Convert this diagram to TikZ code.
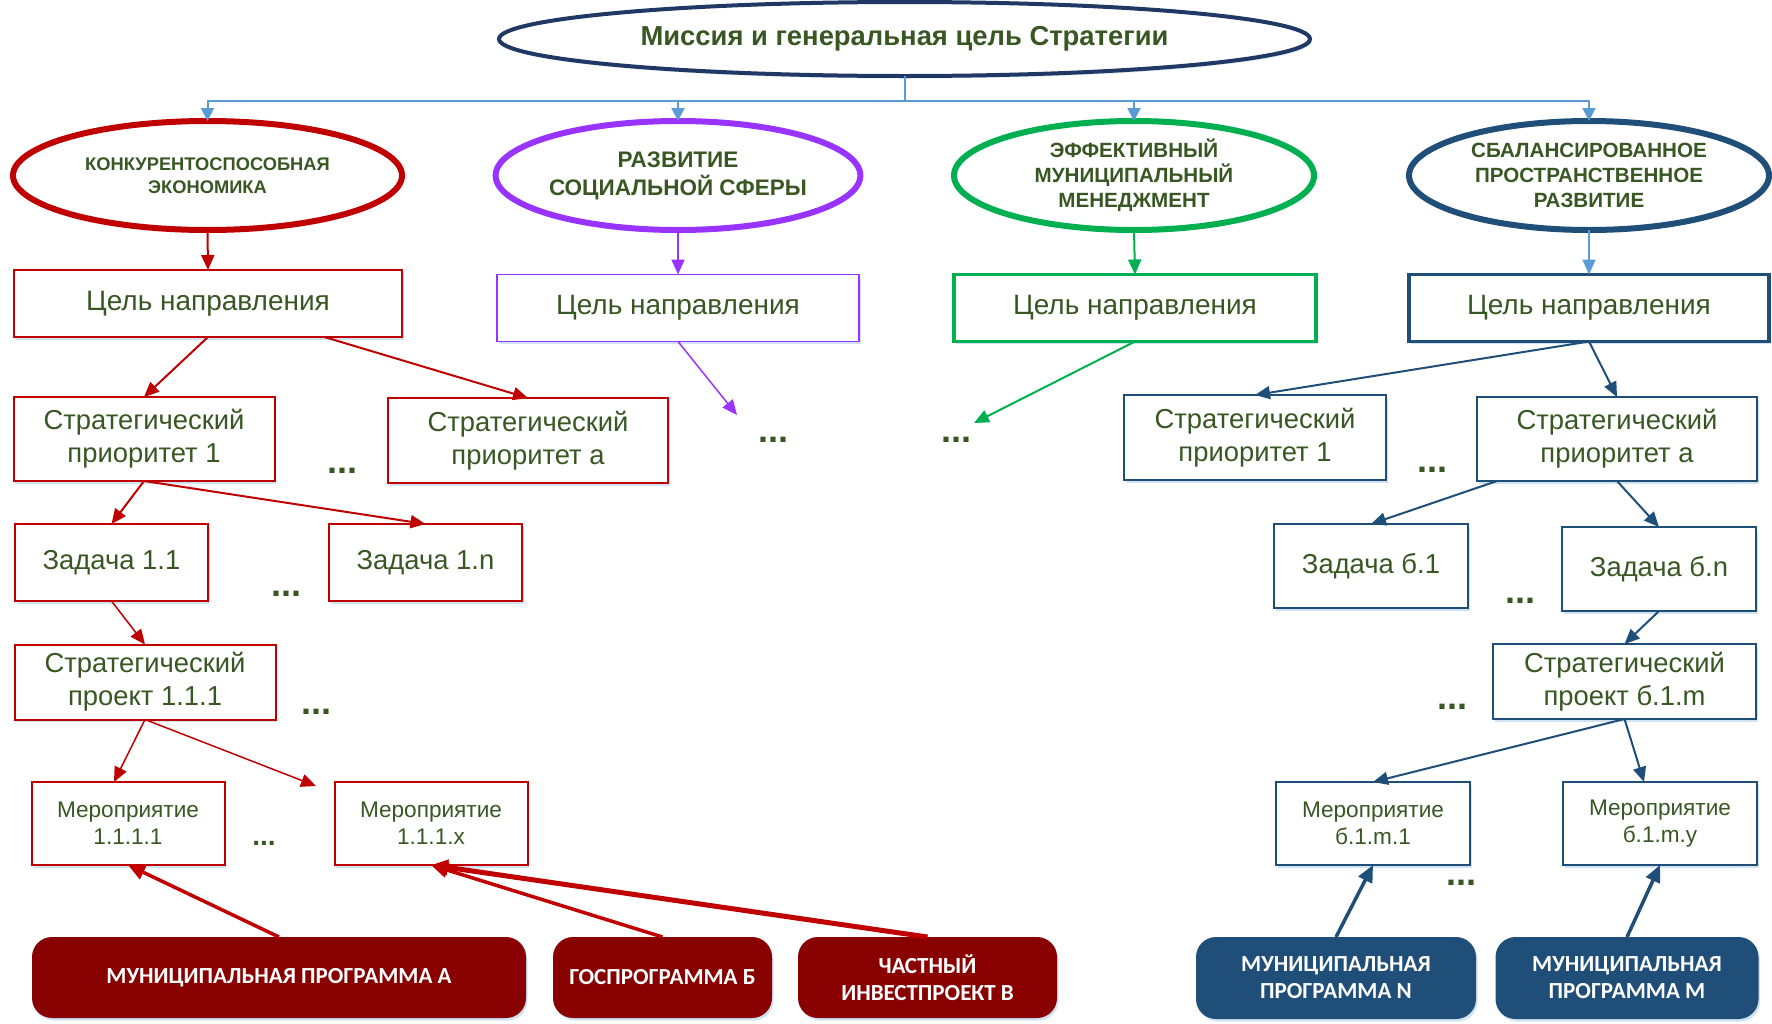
\documentclass[tikz,border=0pt]{standalone}
\usepackage{fontspec}
\setmainfont{Liberation Sans}
\newfontfamily\progfont{Carlito}
\usetikzlibrary{shapes.geometric,arrows.meta,calc,shadows}

\definecolor{txtgreen}{RGB}{56,87,35}
\definecolor{navymain}{RGB}{32,56,100}
\definecolor{econred}{RGB}{192,0,0}
\definecolor{socpurple}{RGB}{153,51,255}
\definecolor{mgmtgreen}{RGB}{0,176,80}
\definecolor{spacenavy}{RGB}{31,78,121}
\definecolor{busblue}{RGB}{91,155,213}
\definecolor{progred}{RGB}{136,0,0}
\definecolor{shadowblue}{RGB}{189,215,238}

\begin{document}
\begin{tikzpicture}[x=1pt,y=-1pt,
    every node/.style={text=txtgreen, align=center, inner sep=0pt, outer sep=0pt},
    boxshadow/.style={drop shadow={shadow xshift=1.5pt, shadow yshift=-2.5pt, fill=shadowblue, opacity=0.7}},
    missionell/.style={ellipse, draw=navymain, fill=white, line width=4pt, minimum width=811pt, minimum height=74pt, font=\bfseries\fontsize{27.4}{32}\selectfont, boxshadow},
    direll/.style={ellipse, fill=white, line width=6pt, minimum width=360pt, minimum height=109pt, font=\bfseries\fontsize{20.6}{25}\selectfont, boxshadow},
    celbox/.style={rectangle, fill=white, minimum width=362pt, minimum height=67pt, font=\fontsize{28}{33}\selectfont, boxshadow},
    prbox/.style={rectangle, fill=white, line width=2pt, minimum width=261pt, minimum height=84pt, font=\fontsize{27.4}{33}\selectfont, boxshadow},
    taskbox/.style={rectangle, fill=white, line width=2pt, minimum width=193pt, minimum height=77pt, font=\fontsize{27.4}{33}\selectfont, boxshadow},
    evbox/.style={rectangle, fill=white, line width=2pt, minimum width=193pt, minimum height=83pt, font=\fontsize{22.6}{27}\selectfont, boxshadow},
    progbox/.style={rectangle, rounded corners=20pt, fill=progred, text=white, minimum height=81pt, font=\progfont\bfseries\fontsize{23}{27}\selectfont, boxshadow},
    dotsnode/.style={font=\bfseries\fontsize{36}{36}\selectfont},
    busarr/.style={draw=busblue, line width=2pt, -{Triangle[length=13pt,width=13pt]}},
    linkarr/.style={line width=2pt, -{Triangle[length=15pt,width=13pt]}},
    progarr/.style={line width=3.5pt, -{Triangle[length=17pt,width=15pt]}}]

    \useasboundingbox (0,0) rectangle (1772,1023);

	% Mission
    \node[missionell] (mission) at (904.5,39) {Миссия и генеральная цель Стратегии};
    \coordinate (bus) at (904.5,101);

	% Directions
    \node[direll, draw=econred, minimum width=389pt, font=\bfseries\fontsize{18.3}{23}\selectfont] (econ) at (207.5,175.5) {КОНКУРЕНТОСПОСОБНАЯ\\ЭКОНОМИКА};
    \node[direll, draw=socpurple, font=\bfseries\fontsize{22.5}{28}\selectfont] (soc) at (678,175.5) {РАЗВИТИЕ\\СОЦИАЛЬНОЙ СФЕРЫ};
    \node[direll, draw=mgmtgreen] (mgmt) at (1134,175.5) {ЭФФЕКТИВНЫЙ\\МУНИЦИПАЛЬНЫЙ\\МЕНЕДЖМЕНТ};
    \node[direll, draw=spacenavy] (space) at (1589,175.5) {СБАЛАНСИРОВАННОЕ\\ПРОСТРАНСТВЕННОЕ\\РАЗВИТИЕ};

    \foreach \d in {econ,soc,mgmt,space}
        \draw[busarr] (mission.south) -- (mission.south |- bus) -| (\d.north);

	% Goals
    \node[celbox, draw=econred, line width=2pt, minimum width=388pt] (econgoal) at (208,303.5) {Цель направления};
    \node[celbox, draw=socpurple, line width=1.5pt] (socgoal) at (678,308) {Цель направления};
    \node[celbox, draw=mgmtgreen, line width=3.5pt] (mgmtgoal) at (1135,308) {Цель направления};
    \node[celbox, draw=spacenavy, line width=3.5pt, minimum width=360pt] (spacegoal) at (1589,308) {Цель направления};

    \draw[linkarr, econred] (econ.south) -- (econgoal.north);
    \draw[linkarr, socpurple] (soc.south) -- (socgoal.north);
    \draw[linkarr, mgmtgreen] (mgmt.south) -- (mgmtgoal.north);
    \draw[linkarr, busblue] (space.south) -- (spacegoal.north);

	% Economy branch
    \node[prbox, draw=econred] (econpr1) at (144,439) {Стратегический\\приоритет 1};
    \node[prbox, draw=econred, minimum width=280pt, minimum height=85pt] (econpra) at (528,440.5) {Стратегический\\приоритет а};
    \node[dotsnode] (econdots1) at (342,471) {...};
    \node[taskbox, draw=econred] (econtask1) at (111.5,562.5) {Задача 1.1};
    \node[taskbox, draw=econred] (econtaskn) at (425.5,562.5) {Задача 1.n};
    \node[dotsnode] (econdots2) at (286,594) {...};
    \node[prbox, draw=econred, minimum height=75pt] (econproj) at (145,682) {Стратегический\\проект 1.1.1};
    \node[dotsnode] (econdots3) at (316,712) {...};
    \node[evbox, draw=econred] (econev1) at (128,823.5) {Мероприятие\\1.1.1.1};
    \node[evbox, draw=econred] (econevx) at (431,823.5) {Мероприятие\\1.1.1.x};
    \node[font=\bfseries\fontsize{28}{28}\selectfont] (econdots4) at (264,843) {...};
    \coordinate (econfree) at (316,786);

    \draw[linkarr, econred] (econgoal.south) -- (econpr1.north);
    \draw[linkarr, econred] ($(econgoal.south)!0.6!(econgoal.south east)$) -- (econpra.north);
    \draw[linkarr, econred] (econpr1.south) -- (econtask1.north);
    \draw[linkarr, econred] (econpr1.south) -- (econtaskn.north);
    \draw[linkarr, econred, line width=1.5pt] (econtask1.south) -- (econproj.north);
    \draw[linkarr, econred, line width=1.5pt] (econproj.south) -- ([xshift=-14pt]econev1.north);
    \draw[linkarr, econred, line width=1.5pt] (econproj.south) -- (econfree);

	% Programmes (red)
    \node[progbox, minimum width=494pt] (proga) at (279,977.5) {МУНИЦИПАЛЬНАЯ ПРОГРАММА А};
    \node[progbox, minimum width=219pt] (progb) at (662.5,977.5) {ГОСПРОГРАММА Б};
    \node[progbox, minimum width=259pt] (progc) at (927.5,977.5) {ЧАСТНЫЙ\\ИНВЕСТПРОЕКТ В};

    \draw[progarr, econred] (proga.north) -- (econev1.south);
    \draw[progarr, econred] (progb.north) -- (econevx.south);
    \draw[progarr, econred, line width=5pt] (progc.north) -- (econevx.south);

	% Social and management branches
    \coordinate (socfree) at (737,415);
    \node[dotsnode] (socdots) at (773,440) {...};
    \coordinate (mgmtfree) at (974,423);
    \node[dotsnode] (mgmtdots) at (956,440) {...};

    \draw[linkarr, socpurple, line width=1.5pt] (socgoal.south) -- (socfree);
    \draw[linkarr, mgmtgreen] (mgmtgoal.south) -- (mgmtfree);

	% Space branch
    \node[prbox, draw=spacenavy, minimum width=262pt, minimum height=85pt] (spacepr1) at (1255,437.5) {Стратегический\\приоритет 1};
    \node[prbox, draw=spacenavy, minimum width=280pt] (spacepra) at (1617,439) {Стратегический\\приоритет а};
    \node[dotsnode] (spacedots1) at (1432,470) {...};
    \node[taskbox, draw=spacenavy, minimum width=194pt, minimum height=84pt] (spacetask1) at (1371,566) {Задача б.1};
    \node[taskbox, draw=spacenavy, minimum width=194pt, minimum height=84pt] (spacetaskn) at (1659,569) {Задача б.n};
    \node[dotsnode] (spacedots2) at (1520,601) {...};
    \node[prbox, draw=spacenavy, minimum width=263pt, minimum height=75pt] (spaceproj) at (1624.5,681.5) {Стратегический\\проект б.1.m};
    \node[dotsnode] (spacedots3) at (1452,707) {...};
    \node[evbox, draw=spacenavy, minimum width=194pt] (spaceev1) at (1373,823.5) {Мероприятие\\б.1.m.1};
    \node[evbox, draw=spacenavy, minimum width=194pt] (spaceevy) at (1660,823.5) {Мероприятие\\б.1.m.y};
    \node[dotsnode] (spacedots4) at (1461,883) {...};

    \draw[linkarr, spacenavy] (spacegoal.south) -- (spacepr1.north);
    \draw[linkarr, spacenavy] (spacegoal.south) -- (spacepra.north);
    \draw[linkarr, spacenavy] ([xshift=20pt]spacepra.south west) -- (spacetask1.north);
    \draw[linkarr, spacenavy] (spacepra.south) -- (spacetaskn.north);
    \draw[linkarr, spacenavy] (spacetaskn.south) -- (spaceproj.north);
    \draw[linkarr, spacenavy] (spaceproj.south) -- (spaceev1.north);
    \draw[linkarr, spacenavy] (spaceproj.south) -- ([xshift=-16pt]spaceevy.north);

	% Programmes (navy)
    \node[progbox, fill=spacenavy, minimum width=280pt, minimum height=82pt] (progn) at (1336,978) {МУНИЦИПАЛЬНАЯ\\ПРОГРАММА N};
    \node[progbox, fill=spacenavy, minimum width=263pt, minimum height=82pt] (progm) at (1627,978) {МУНИЦИПАЛЬНАЯ\\ПРОГРАММА M};

    \draw[progarr, spacenavy] (progn.north) -- (spaceev1.south);
    \draw[progarr, spacenavy] (progm.north) -- (spaceevy.south);

\end{tikzpicture}
\end{document}
